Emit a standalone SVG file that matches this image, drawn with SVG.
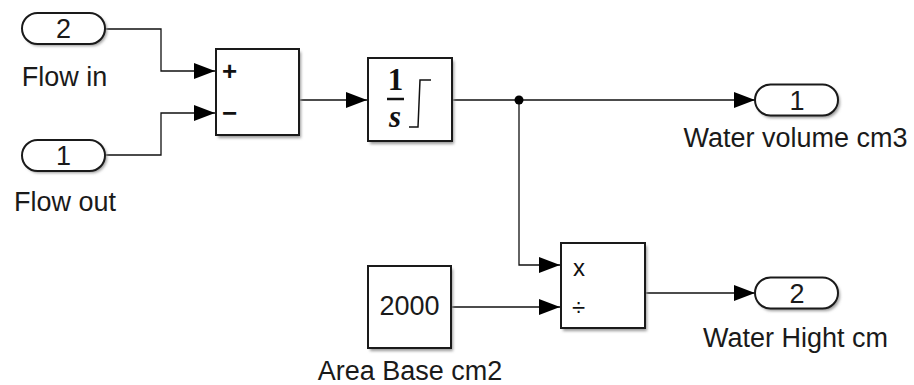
<svg xmlns="http://www.w3.org/2000/svg" width="914" height="385" viewBox="0 0 914 385">
<defs>
<style>
.blk{fill:#fff;stroke:#1a1a1a;stroke-width:2}
.sh{fill:#999;filter:url(#blur)}
.ln{fill:none;stroke:#111;stroke-width:1.3}
.lbl{font-family:"Liberation Sans",Arial,sans-serif;font-size:27px;fill:#1a1a1a;text-anchor:middle}
.sym{font-family:"Liberation Sans",Arial,sans-serif;font-size:26px;font-weight:bold;fill:#111}
.op{font-family:"Liberation Sans",Arial,sans-serif;font-size:24px;fill:#111}
.m{font-family:"Liberation Serif","Times New Roman",serif;font-weight:bold;font-size:31px;fill:#111;text-anchor:middle}
</style>
<filter id="blur" x="-20%" y="-20%" width="140%" height="140%"><feGaussianBlur stdDeviation="1.5"/></filter>
<marker id="arr" markerUnits="userSpaceOnUse" markerWidth="22" markerHeight="18" refX="21" refY="8" orient="auto"><path d="M0,0 L21,8 L0,16 Z" fill="#000"/></marker>
</defs>

<g id="connectors">
<path class="ln" d="M105,29 H161 V71 H215" marker-end="url(#arr)"/>
<path class="ln" d="M105,155 H161 V113 H215" marker-end="url(#arr)"/>
<path class="ln" d="M300,100 H367" marker-end="url(#arr)"/>
<path class="ln" d="M453,100 H755" marker-end="url(#arr)"/>
<path class="ln" d="M519,100 V265 H560" marker-end="url(#arr)"/>
<path class="ln" d="M452,307 H560" marker-end="url(#arr)"/>
<path class="ln" d="M646,293 H755" marker-end="url(#arr)"/>
<circle cx="519" cy="100" r="4.5" fill="#000"/>
</g>

<g id="inport_flow_in">
<rect class="sh" x="24" y="15" width="83" height="31" rx="15.5"/>
<rect class="blk" x="22" y="13" width="83" height="31" rx="15.5"/>
<text class="lbl" x="63.5" y="38">2</text>
<text class="lbl" x="64.5" y="86">Flow in</text>
</g>

<g id="inport_flow_out">
<rect class="sh" x="24" y="142" width="83" height="31" rx="15.5"/>
<rect class="blk" x="22" y="140" width="83" height="31" rx="15.5"/>
<text class="lbl" x="63.5" y="165">1</text>
<text class="lbl" x="65" y="211">Flow out</text>
</g>

<g id="sum">
<rect class="sh" x="218" y="52" width="83" height="86"/>
<rect class="blk" x="216" y="49" width="83" height="86"/>
<text class="sym" x="222" y="80">+</text>
<text class="sym" x="222" y="122">−</text>
</g>

<g id="integrator">
<rect class="sh" x="370" y="61" width="84" height="83"/>
<rect class="blk" x="368" y="58" width="84" height="83"/>
<text class="m" x="395.5" y="90">1</text>
<line x1="387" y1="99" x2="404" y2="99" stroke="#111" stroke-width="2.5"/>
<text class="m" x="395" y="127" font-style="italic">s</text>
<path d="M409,127 H418 L420,80 H431" fill="none" stroke="#111" stroke-width="1.5"/>
</g>

<g id="outport_water_volume">
<rect class="sh" x="757" y="87" width="83" height="31" rx="15.5"/>
<rect class="blk" x="755" y="84.5" width="83" height="31" rx="15.5"/>
<text class="lbl" x="797" y="109.5">1</text>
<text class="lbl" x="795.5" y="147">Water volume cm3</text>
</g>

<g id="product">
<rect class="sh" x="563" y="246" width="84" height="85"/>
<rect class="blk" x="561" y="243" width="84" height="85"/>
<text class="op" x="573" y="276">x</text>
<text class="op" x="572" y="316">÷</text>
</g>

<g id="constant">
<rect class="sh" x="370" y="269" width="83" height="82"/>
<rect class="blk" x="368" y="266" width="83" height="82"/>
<text class="lbl" x="409.5" y="315">2000</text>
<text class="lbl" x="410" y="380">Area Base cm2</text>
</g>

<g id="outport_water_hight">
<rect class="sh" x="757" y="280" width="83" height="31" rx="15.5"/>
<rect class="blk" x="755" y="277.5" width="83" height="31" rx="15.5"/>
<text class="lbl" x="797" y="302.5">2</text>
<text class="lbl" x="795.5" y="347">Water Hight cm</text>
</g>
</svg>
